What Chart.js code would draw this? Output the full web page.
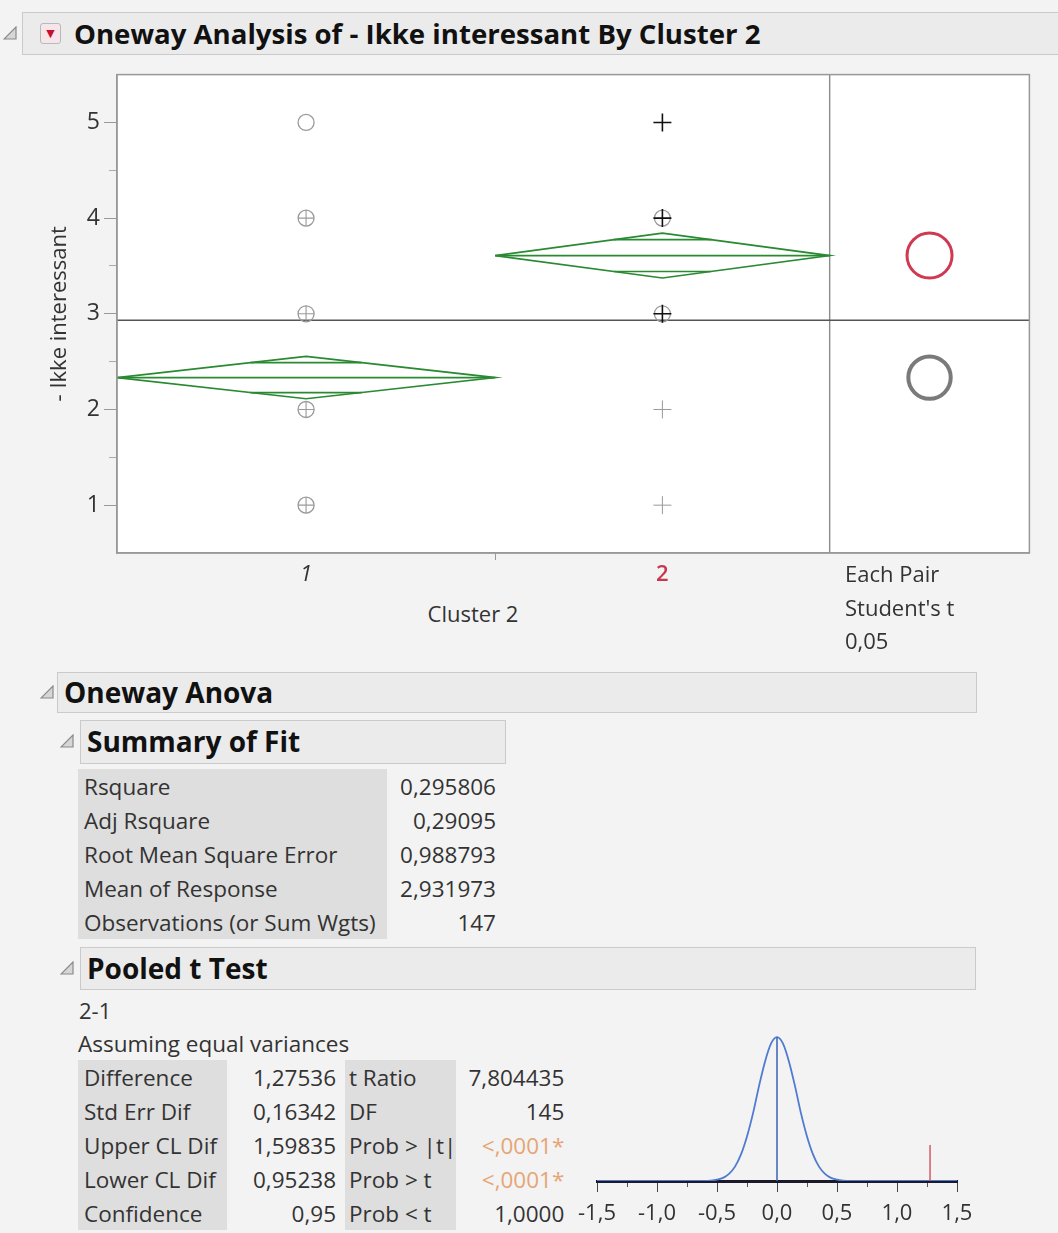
<!DOCTYPE html>
<html lang="da">
<head>
  <meta charset="UTF-8" />
  <title>Oneway Analysis of - Ikke interessant By Cluster 2</title>
  <script src="https://cdn.jsdelivr.net/npm/chart.js"></script>
  <style>
    body {
      margin: 0;
      width: 1058px;
      height: 1233px;
      position: relative;
      overflow: hidden;
      background: #f3f3f3;
      font-family: 'Segoe UI', 'Open Sans', sans-serif;
      color: #333;
    }
    .abs { position: absolute; }
    .bar {
      position: absolute;
      background: #ebebeb;
      border: 1px solid #cacaca;
      box-sizing: border-box;
    }
    .bar span {
      position: absolute;
      left: 6px;
      top: 0;
      font-weight: 700;
      color: #111;
      white-space: nowrap;
    }
    .tri { position: absolute; width: 14px; height: 14px; }
    .redbtn {
      position: absolute;
      left: 40px; top: 23px;
      width: 21px; height: 21px;
      border: 1px solid #b9b9b9;
      border-radius: 3px;
      background: #f6e6e9;
      box-sizing: border-box;
      text-align: center;
      color: #c8102e;
      font-family: 'DejaVu Sans', sans-serif;
      font-size: 11px;
      line-height: 19px;
    }
    table { border-collapse: collapse; position: absolute; font-size: 22.5px; }
    td { padding: 0; height: 34px; white-space: nowrap; }
    td.lab { background: #dedede; padding-left: 6px; }
    td.val { text-align: right; padding-right: 4px; }
    td.sig { color: #e6a574; }
    .txt { position: absolute; font-size: 22px; white-space: nowrap; }
  </style>
</head>
<body>

<svg class="tri" style="left:3px; top:26px;" viewBox="0 0 14 14"><polygon points="1,13 13,13 13,1" fill="#d6d6d6" stroke="#8a8a8a" stroke-width="1.2"/></svg>
<div class="bar" style="left:22px; top:12px; width:1040px; height:43px;">
  <span style="left:51px; font-size:27.6px; line-height:41px;">Oneway Analysis of - Ikke interessant By Cluster 2</span>
</div>
<div class="redbtn">▼</div>

<canvas id="onewayChart" class="abs" width="1040" height="520" style="left:0; top:64px;"></canvas>

<div class="txt" style="left:373px; width:200px; text-align:center; top:598px;">Cluster 2</div>
<div class="txt" style="left:845px; top:557px; line-height:33.5px;">Each Pair<br>Student's t<br>0,05</div>

<svg class="tri" style="left:40px; top:685px;" viewBox="0 0 14 14"><polygon points="1,13 13,13 13,1" fill="#d6d6d6" stroke="#8a8a8a" stroke-width="1.2"/></svg>
<div class="bar" style="left:57px; top:672px; width:920px; height:41px;">
  <span style="font-size:28px; line-height:38px;">Oneway Anova</span>
</div>

<svg class="tri" style="left:60px; top:734px;" viewBox="0 0 14 14"><polygon points="1,13 13,13 13,1" fill="#d6d6d6" stroke="#8a8a8a" stroke-width="1.2"/></svg>
<div class="bar" style="left:80px; top:720px; width:426px; height:44px;">
  <span style="font-size:28px; line-height:41px;">Summary of Fit</span>
</div>
<table id="fitTable" style="left:78px; top:769px;"></table>

<svg class="tri" style="left:60px; top:961px;" viewBox="0 0 14 14"><polygon points="1,13 13,13 13,1" fill="#d6d6d6" stroke="#8a8a8a" stroke-width="1.2"/></svg>
<div class="bar" style="left:80px; top:947px; width:896px; height:43px;">
  <span style="font-size:28px; line-height:40px;">Pooled t Test</span>
</div>
<div class="txt" style="left:79px; top:995px;">2-1</div>
<div class="txt" style="left:78px; top:1028px; font-size:22.5px;">Assuming equal variances</div>
<table id="tTable" style="left:78px; top:1060px;"></table>

<canvas id="tChart" class="abs" width="440" height="213" style="left:560px; top:1020px;"></canvas>

<script>
  // ---- main oneway plot ----
  const groupLabels = ['1', '2'];
  const groupStart = [0, 78];      // cumulative counts, groups drawn proportional to n
  const groupEnd = [78, 147];
  const groupMeans = [2.3333, 3.6087];
  const ciUpper = [2.555, 3.844];
  const ciLower = [2.112, 3.374];
  const overlapUpper = [2.490, 3.775];
  const overlapLower = [2.177, 3.442];
  const grandMean = 2.931973;
  const panelEnd = 188.2;          // right edge of comparison-circle panel
  const yTicks = [1, 2, 3, 4, 5];
  const yMinorTicks = [1.5, 2.5, 3.5, 4.5];

  const g1Circles = [1, 2, 3, 4, 5];
  const g1Plus = [1, 2, 3, 4];
  const g2Circles = [3, 4];
  const g2PlusGray = [1, 2];
  const g2PlusBlack = [3, 4, 5];

  // ---- tables ----
  const fitLabels = ['Rsquare', 'Adj Rsquare', 'Root Mean Square Error', 'Mean of Response', 'Observations (or Sum Wgts)'];
  const fitValues = ['0,295806', '0,29095', '0,988793', '2,931973', '147'];
  const tLabelsA = ['Difference', 'Std Err Dif', 'Upper CL Dif', 'Lower CL Dif', 'Confidence'];
  const tValuesA = ['1,27536', '0,16342', '1,59835', '0,95238', '0,95'];
  const tLabelsB = ['t Ratio', 'DF', 'Prob > |t|', 'Prob > t', 'Prob < t'];
  const tValuesB = ['7,804435', '145', '<,0001*', '<,0001*', '1,0000'];

  // ---- small t distribution plot ----
  const tTicks = [-1.5, -1, -0.5, 0, 0.5, 1, 1.5];
  const tMinorTicks = [-1.25, -0.75, -0.25, 0.25, 0.75, 1.25];
  const curveX = [-1.5, -0.6, -0.55, -0.5, -0.45, -0.4, -0.35, -0.3, -0.25, -0.2, -0.15, -0.1, -0.05, 0,
                  0.05, 0.1, 0.15, 0.2, 0.25, 0.3, 0.35, 0.4, 0.45, 0.5, 0.55, 0.6, 1.5];
  const curveY = [0, 0, 0.003, 0.01, 0.022, 0.05, 0.1, 0.185, 0.31, 0.47, 0.66, 0.83, 0.955, 1,
                  0.955, 0.83, 0.66, 0.47, 0.31, 0.185, 0.1, 0.05, 0.022, 0.01, 0.003, 0, 0];
  const tDifference = 1.27536;
  const tMarkHeight = 0.25;

  const esc = s => s.replace(/</g, '&lt;').replace(/>/g, '&gt;');

  // build tables
  document.getElementById('fitTable').innerHTML = fitLabels.map((l, i) =>
    `<tr><td class="lab" style="width:303px">${l}</td><td class="val" style="width:109px">${fitValues[i]}</td></tr>`).join('');
  document.getElementById('tTable').innerHTML = tLabelsA.map((l, i) =>
    `<tr><td class="lab" style="width:143px">${l}</td><td class="val" style="width:109px;padding-right:9px">${tValuesA[i]}</td>` +
    `<td class="lab" style="width:104px;padding-left:4px">${esc(tLabelsB[i])}</td>` +
    `<td class="val ${tValuesB[i].startsWith('<') ? 'sig' : ''}" style="width:108px">${esc(tValuesB[i])}</td></tr>`).join('');

  const FONT = "'Segoe UI', 'Open Sans', sans-serif";
  const green = '#2a8a32';
  const gray = '#9a9a9a';

  function pts(x, ys) { return ys.map(y => ({ x, y })); }

  const centers = groupStart.map((s, i) => (s + groupEnd[i]) / 2);
  const lineDs = (data, color, width) => ({
    data, showLine: true, borderColor: color, borderWidth: width, pointRadius: 0, fill: false
  });

  const datasets = [
    { data: pts(centers[1], g2PlusBlack), pointStyle: 'cross', pointRadius: 9, borderColor: '#111', borderWidth: 1.6 },
    { data: pts(centers[1], g2PlusGray), pointStyle: 'cross', pointRadius: 9, borderColor: gray, borderWidth: 1 },
    { data: pts(centers[1], g2Circles), pointStyle: 'circle', pointRadius: 8, borderColor: gray, backgroundColor: 'transparent', borderWidth: 1.3 },
    { data: pts(centers[0], g1Plus), pointStyle: 'cross', pointRadius: 8, borderColor: gray, borderWidth: 1.1 },
    { data: pts(centers[0], g1Circles), pointStyle: 'circle', pointRadius: 8, borderColor: gray, backgroundColor: 'transparent', borderWidth: 1.3 }
  ];
  groupMeans.forEach((m, i) => {
    const x0 = groupStart[i], x1 = groupEnd[i], xc = centers[i];
    datasets.push(lineDs([{ x: x0, y: m }, { x: xc, y: ciUpper[i] }, { x: x1, y: m }, { x: xc, y: ciLower[i] }, { x: x0, y: m }], green, 1.7));
    datasets.push(lineDs([{ x: x0, y: m }, { x: x1, y: m }], green, 1.7));
    const half = (x1 - x0) / 2;
    const wTop = half * (ciUpper[i] - overlapUpper[i]) / (ciUpper[i] - m);
    const wBot = half * (overlapLower[i] - ciLower[i]) / (m - ciLower[i]);
    datasets.push(lineDs([{ x: xc - wTop, y: overlapUpper[i] }, { x: xc + wTop, y: overlapUpper[i] }], green, 1.7));
    datasets.push(lineDs([{ x: xc - wBot, y: overlapLower[i] }, { x: xc + wBot, y: overlapLower[i] }], green, 1.7));
  });
  datasets.push(lineDs([{ x: 0, y: grandMean }, { x: panelEnd, y: grandMean }], '#555', 1.4));
  datasets.push(lineDs([{ x: groupEnd[1], y: 0.5 }, { x: groupEnd[1], y: 5.5 }], '#8c8c8c', 1.4));

  // white plot background + frame + comparison circles
  const framePlugin = {
    id: 'frame',
    beforeDraw(chart) {
      const a = chart.chartArea, c = chart.ctx;
      c.save();
      c.fillStyle = '#fff';
      c.fillRect(a.left, a.top, a.width, a.height);
      c.restore();
    },
    afterDraw(chart) {
      const a = chart.chartArea, c = chart.ctx;
      const xs = chart.scales.x, ys = chart.scales.y;
      c.save();
      c.strokeStyle = '#999';
      c.lineWidth = 1.5;
      c.strokeRect(a.left, a.top, a.width, a.height);
      const cx = xs.getPixelForValue((groupEnd[1] + panelEnd) / 2);
      const colors = ['#7a7a7a', '#cf3a52'];
      const widths = [4, 3];
      groupMeans.forEach((m, i) => {
        const cy = ys.getPixelForValue(m);
        const r = Math.abs(ys.getPixelForValue(ciUpper[i]) - cy);
        c.beginPath();
        c.arc(cx, cy, r, 0, Math.PI * 2);
        c.strokeStyle = colors[i];
        c.lineWidth = widths[i];
        c.stroke();
      });
      c.restore();
    }
  };

  const xTickVals = [centers[0], groupEnd[0], centers[1]];
  const xTickText = ['1', '', '2'];
  const noPadY = s => { s.paddingTop = 0; s.paddingBottom = 0; };
  const noPadX = s => { s.paddingLeft = 0; s.paddingRight = 0; };

  new Chart(document.getElementById('onewayChart'), {
    type: 'scatter',
    data: { datasets },
    plugins: [framePlugin],
    options: {
      responsive: false,
      animation: false,
      layout: { padding: { top: 10, right: 10, left: 0, bottom: 0 } },
      plugins: { legend: { display: false }, tooltip: { enabled: false } },
      scales: {
        x: {
          type: 'linear', min: 0, max: panelEnd,
          afterBuildTicks: s => { s.ticks = xTickVals.map(v => ({ value: v })); },
          afterFit: s => { s.height = 31; noPadX(s); },
          border: { color: '#999', width: 1.5 },
          grid: {
            drawOnChartArea: false, tickLength: 7,
            color: ctx => ctx.index === 1 ? '#999' : 'transparent'
          },
          ticks: {
            autoSkip: false, maxRotation: 0, padding: 2,
            callback: (v, i) => xTickText[i],
            color: ctx => ctx.index === 2 ? '#c8374e' : '#333',
            font: ctx => ctx.index === 2
              ? { family: FONT, size: 22, weight: '600' }
              : { family: FONT, size: 22, style: 'italic' }
          }
        },
        y: {
          position: 'left', weight: 1, min: 0.5, max: 5.5,
          afterBuildTicks: s => { s.ticks = yTicks.map(v => ({ value: v })); },
          afterFit: s => { s.width = 117; noPadY(s); },
          border: { color: '#999', width: 1.5 },
          grid: { drawOnChartArea: false, tickLength: 13, color: '#999' },
          ticks: { color: '#333', padding: 4, font: { family: FONT, size: 23 } },
          title: {
            display: true, text: '- Ikke interessant', color: '#333',
            font: { family: FONT, size: 22 }, padding: { top: 47, bottom: 0 }
          }
        },
        yMinor: {
          position: 'left', weight: 0, min: 0.5, max: 5.5,
          afterBuildTicks: s => { s.ticks = yMinorTicks.map(v => ({ value: v })); },
          afterFit: s => { s.width = 0; noPadY(s); },
          border: { display: false },
          grid: { drawOnChartArea: false, tickLength: 8, color: '#aaa' },
          ticks: { display: false }
        }
      }
    }
  });

  // ---- small distribution chart ----
  const fmt = v => v.toFixed(1).replace('.', ',');
  new Chart(document.getElementById('tChart'), {
    type: 'scatter',
    data: {
      datasets: [
        lineDs([{ x: tDifference, y: 0 }, { x: tDifference, y: tMarkHeight }], '#d3505f', 1.4),
        lineDs([{ x: 0, y: 0 }, { x: 0, y: 1 }], '#3b62b5', 1.5),
        Object.assign(lineDs(curveX.map((x, i) => ({ x, y: curveY[i] })), '#4f7bd0', 1.8),
          { cubicInterpolationMode: 'monotone' })
      ]
    },
    options: {
      responsive: false,
      animation: false,
      layout: { padding: { top: 10, right: 43, left: 37, bottom: 0 } },
      plugins: { legend: { display: false }, tooltip: { enabled: false } },
      scales: {
        y: { display: false, min: 0, max: 1.05 },
        xMinor: {
          type: 'linear', position: 'bottom', weight: 0, min: -1.5, max: 1.5,
          afterBuildTicks: s => { s.ticks = tMinorTicks.map(v => ({ value: v })); },
          afterFit: s => { s.height = 0; noPadX(s); },
          border: { display: false },
          grid: { drawOnChartArea: false, tickLength: 6, color: '#555' },
          ticks: { display: false }
        },
        x: {
          type: 'linear', position: 'bottom', weight: 1, min: -1.5, max: 1.5,
          afterBuildTicks: s => { s.ticks = tTicks.map(v => ({ value: v })); },
          afterFit: s => { s.height = 52; noPadX(s); },
          border: { color: '#1a1a2a', width: 3 },
          grid: { drawOnChartArea: false, tickLength: 11, color: '#444' },
          ticks: {
            autoSkip: false, maxRotation: 0, padding: 9, color: '#333',
            font: { family: FONT, size: 22 },
            callback: v => fmt(v)
          }
        }
      }
    }
  });
</script>

</body>
</html>
